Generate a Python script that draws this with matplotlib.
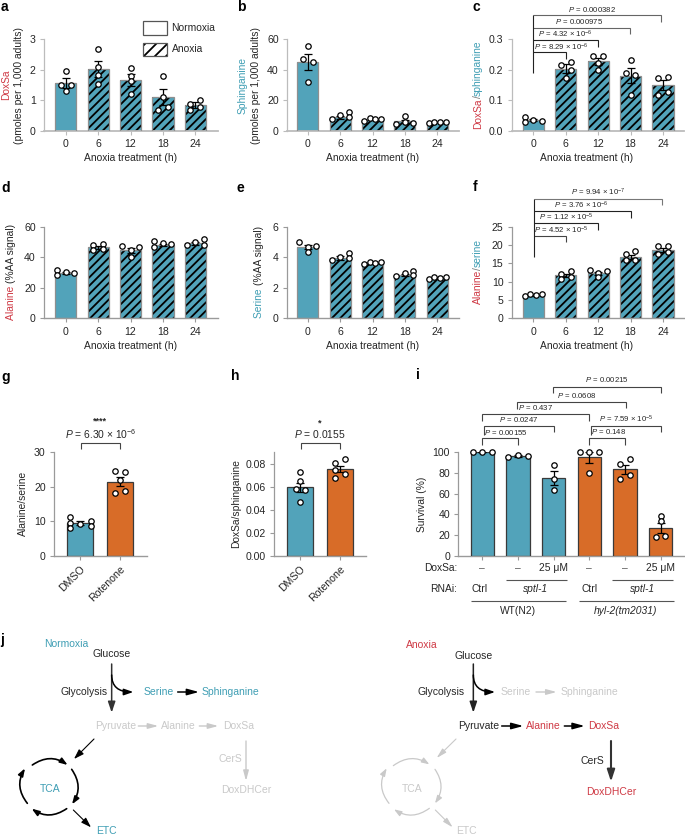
import matplotlib
matplotlib.use("Agg")
import matplotlib.pyplot as plt
from matplotlib.patches import Rectangle, FancyArrowPatch

plt.rcParams['font.family'] = ['Liberation Sans', 'DejaVu Sans']
plt.rcParams['mathtext.fontset'] = 'custom'
plt.rcParams['mathtext.rm'] = 'Liberation Sans'
plt.rcParams['mathtext.it'] = 'Liberation Sans:italic'
plt.rcParams['mathtext.default'] = 'regular'
plt.rcParams['hatch.linewidth'] = 1.3

TEAL = '#52A3BA'
ORANGE = '#D86C28'
TEALT = '#3F9EB4'
RED = '#CF3A45'
GREY = '#C9C9C9'
INK = '#262626'

hours = ['0', '6', '12', '18', '24']
treat = ['DMSO', 'Rotenone']

a_bars = [1.55, 2.02, 1.67, 1.10, 0.83]
a_err = [0.16, 0.26, 0.20, 0.25, 0.10]
a_pts = [[1.96, 1.49, 1.49, 1.31], [2.66, 2.09, 1.81, 1.53], [2.06, 1.80, 1.61, 1.19], [1.80, 1.10, 0.79, 0.67], [1.01, 0.86, 0.68, 0.76]]
a_off = [[0, -.15, .15, 0], [0, 0, 0, 0], [0, 0, 0, 0], [0, 0, .15, -.15], [.15, -.15, -.15, .15]]

b_bars = [45.0, 8.8, 7.2, 6.1, 5.6]
b_err = [5.0, 1.0, 0.5, 1.1, 0.2]
b_pts = [[55.7, 47, 45, 32], [7.6, 10.3, 12.4, 9.2], [6.1, 8.3, 7.4, 7.4], [4.4, 9.6, 5.7, 4.8], [5.0, 5.9, 5.9, 5.9]]
b_off = [[0, -.15, .15, 0], [-.26, 0, .26, .26], [-.26, -.09, .09, .26], [-.26, 0, 0, .26], [-.26, -.09, .09, .26]]

c_bars = [0.035, 0.203, 0.227, 0.180, 0.150]
c_err = [0.003, 0.014, 0.012, 0.024, 0.016]
c_pts = [[.045, .027, .035, .032], [.214, .225, .199, .173], [.244, .244, .223, .197], [.230, .189, .181, .116], [.173, .176, .128, .117]]
c_off = [[-.26, -.26, 0, .26], [-.15, .15, .15, 0], [-.15, .15, 0, 0], [0, -.15, .15, 0], [-.15, .15, .15, -.15]]

d_bars = [29.5, 46.5, 44.5, 48.0, 49.0]
d_err = [0.6, 1.0, 1.5, 0.8, 1.0]
d_pts = [[31.7, 28.2, 30.1, 29.5], [48.3, 48.5, 44.8, 45.2], [47.4, 44.8, 40.2, 46.5], [50.7, 46.7, 49.1, 48.7], [47.8, 50.0, 52.0, 48.0]]
d_off = [[-.26, -.26, 0, .26], [-.15, .15, -.15, .15], [-.26, 0, 0, .26], [-.26, -.26, 0, .26], [-.26, 0, .26, .26]]

e_bars = [4.65, 3.95, 3.60, 2.85, 2.65]
e_err = [0.14, 0.10, 0.03, 0.08, 0.04]
e_pts = [[4.97, 4.69, 4.32, 4.76], [3.80, 4.01, 4.30, 3.95], [3.56, 3.69, 3.64, 3.69], [2.77, 2.97, 3.12, 2.81], [2.55, 2.73, 2.66, 2.68]]
e_off = [[-.26, 0, 0, .26], [-.26, 0, .26, .26], [-.26, -.09, .09, .26], [-.26, 0, .26, .26], [-.26, -.09, .09, .26]]

f_bars = [6.3, 11.7, 12.3, 16.8, 18.7]
f_err = [0.15, 0.5, 0.4, 0.6, 0.6]
f_pts = [[6.1, 6.7, 6.3, 6.5], [12.1, 12.9, 10.6, 11.4], [13.1, 12.5, 11.2, 12.8], [17.5, 18.4, 15.8, 15.9], [19.6, 19.8, 17.5, 18.0]]
f_off = [[-.26, -.09, .09, .26], [-.15, .15, -.15, .15], [-.26, 0, 0, .26], [-.15, .15, -.15, .15], [-.15, .15, -.15, .15]]

g_bars = [9.5, 21.4]
g_err = [0.5, 1.3]
g_pts = [[11.2, 9.6, 8.0, 9.3, 10.0, 8.5], [24.5, 24.2, 21.9, 18.2, 18.9]]
g_off = [[-.27, -.27, -.27, 0, .27, .27], [-.12, .12, 0, -.12, .12]]

h_bars = [0.0597, 0.0755]
h_err = [0.004, 0.003]
h_pts = [[.0725, .0652, .0583, .0574, .047], [.0809, .0838, .068, .075, .071]]
h_off = [[0, 0, -.12, .12, 0], [-.12, .12, -.12, -.12, .12]]

i_bars = [100, 96.5, 75, 95, 83.5, 27]
i_err = [0, 0.8, 7, 5, 4.5, 5]
i_pts = [[100, 100, 100], [95.8, 97, 96.8], [87.7, 74.5, 63.5], [100, 100, 100, 79.7], [89, 93.2, 74.2, 77.7], [38.4, 33.2, 18.4, 19]]
i_off = [[-.26, 0, .27], [-.27, 0, .27], [0, 0, 0], [-.27, 0, .27, 0], [-.13, .13, -.13, .13], [0, 0, -.13, .13]]
i_colors = [TEAL, TEAL, TEAL, ORANGE, ORANGE, ORANGE]

W, H = 685, 835
fig = plt.figure(figsize=(W / 100, H / 100), dpi=100)
FS = 7.35


def panel(left, right, top, bottom, x0, step, ymax, yticks, ylabels, dark=False):
    ax = fig.add_axes([left / W, 1 - bottom / H, (right - left) / W, (bottom - top) / H])
    ax.set_xlim((left - x0) / step, (right - x0) / step)
    ax.set_ylim(0, ymax)
    ax.patch.set_alpha(0)
    for s in ('top', 'right'):
        ax.spines[s].set_visible(False)
    c = '#9a9a9a' if dark else '#bcbcbc'
    ax.spines['left'].set_color(c)
    ax.spines['bottom'].set_color(c)
    ax.spines['left'].set_linewidth(0.9)
    ax.spines['bottom'].set_linewidth(1.0 if dark else 1.3)
    ax.set_yticks(yticks)
    ax.set_yticklabels(ylabels)
    ax.tick_params(axis='both', length=3, width=0.8, color=c, labelsize=7.6, labelcolor=INK, pad=3)
    return ax


def draw(ax, bars, errs, pts, offs, colors, hatched, width, edge='#8f8f8f', ms=3.9):
    xs = list(range(len(bars)))
    for x, v, col, hat in zip(xs, bars, colors, hatched):
        if hat:
            ax.bar(x, v, width, color=col, edgecolor='black', hatch='////', linewidth=0, zorder=2)
        else:
            ax.bar(x, v, width, color=col, linewidth=0, zorder=2)
        ax.bar(x, v, width, fill=False, edgecolor=edge, linewidth=0.9, zorder=3)
    ax.errorbar(xs, bars, yerr=errs, fmt='none', ecolor='black', elinewidth=0.9, capsize=2.6, capthick=0.9, zorder=4)
    for x, ps, os_ in zip(xs, pts, offs):
        ax.plot([x + o for o in os_], ps, 'o', ms=ms, mfc='white', mec='black', mew=0.9, zorder=5, clip_on=False)


ov = fig.add_axes([0, 0, 1, 1], zorder=50)
ov.set_xlim(0, W)
ov.set_ylim(H, 0)
ov.axis('off')
ov.patch.set_alpha(0)


def T(x, y, s, color=INK, size=FS, ha='center', va='center', **kw):
    return ov.text(x, y, s, color=color, fontsize=size, ha=ha, va=va, **kw)


def vparts(x, ybottom, parts, size=FS):
    r = fig.canvas.get_renderer()
    y = ybottom
    for s, col in parts:
        ov.text(x, y, s, color=col, fontsize=size, rotation=90, ha='center', va='bottom')
        probe = ov.text(x, y, s.replace(' ', 't'), fontsize=size, rotation=90, alpha=0)
        h = probe.get_window_extent(r).height
        probe.remove()
        y -= h


def lines(pts, color=INK, lw=0.8):
    xs, ys = zip(*pts)
    ov.plot(xs, ys, color=color, lw=lw, solid_joinstyle='miter', solid_capstyle='butt')


# rows 1 and 2
anox = [False, True, True, True, True]
tc = [TEAL] * 5
ROW1 = (39, 130.7)
ROW2 = (226.7, 318.3)
X1 = dict(a=(44, 218, 65.7), b=(287, 459, 307.7), c=(511.7, 684, 533.3))
BW = 21.2 / 32.4

ax = panel(X1['a'][0], X1['a'][1], *ROW1, X1['a'][2], 32.4, 3, [0, 1, 2, 3], ['0', '1', '2', '3'])
draw(ax, a_bars, a_err, a_pts, a_off, tc, anox, BW)
ax.set_xticks(range(5), hours)
ax = panel(X1['b'][0], X1['b'][1], *ROW1, X1['b'][2], 32.4, 60, [0, 20, 40, 60], ['0', '20', '40', '60'])
draw(ax, b_bars, b_err, b_pts, b_off, tc, anox, BW)
ax.set_xticks(range(5), hours)
ax = panel(X1['c'][0], X1['c'][1], *ROW1, X1['c'][2], 32.4, 0.3, [0, .1, .2, .3], ['0.0', '0.1', '0.2', '0.3'])
draw(ax, c_bars, c_err, c_pts, c_off, tc, anox, BW)
ax.set_xticks(range(5), hours)

ax = panel(X1['a'][0], X1['a'][1], *ROW2, X1['a'][2], 32.4, 60, [0, 20, 40, 60], ['0', '20', '40', '60'], True)
draw(ax, d_bars, d_err, d_pts, d_off, tc, anox, BW)
ax.set_xticks(range(5), hours)
ax = panel(X1['b'][0], X1['b'][1], *ROW2, X1['b'][2], 32.4, 6, [0, 2, 4, 6], ['0', '2', '4', '6'], True)
draw(ax, e_bars, e_err, e_pts, e_off, tc, anox, BW)
ax.set_xticks(range(5), hours)
ax = panel(X1['c'][0], X1['c'][1], *ROW2, X1['c'][2], 32.4, 25, [0, 5, 10, 15, 20, 25], ['0', '5', '10', '15', '20', '25'], True)
draw(ax, f_bars, f_err, f_pts, f_off, tc, anox, BW)
ax.set_xticks(range(5), hours)

for cx in (131, 373, 587):
    T(cx, 158, 'Anoxia treatment (h)')
    T(cx, 345.7, 'Anoxia treatment (h)')

# row 3
ax = panel(54, 146.7, 452.3, 555.7, 80.3, 39.7, 30, [0, 10, 20, 30], ['0', '10', '20', '30'], True)
draw(ax, g_bars, g_err, g_pts, g_off, [TEAL, ORANGE], [False, False], 26 / 39.7, edge='#3a3a3a')
ax.set_xticks([0, 1], treat, rotation=45, ha='right', rotation_mode='anchor')
ax = panel(274, 366, 452.3, 555.7, 300.3, 39.7, 0.09, [0, .02, .04, .06, .08], ['0.00', '0.02', '0.04', '0.06', '0.08'], True)
draw(ax, h_bars, h_err, h_pts, h_off, [TEAL, ORANGE], [False, False], 26 / 39.7, edge='#3a3a3a')
ax.set_xticks([0, 1], treat, rotation=45, ha='right', rotation_mode='anchor')
ax = panel(458.3, 684, 452.3, 555.7, 482.3, 35.7, 100, [0, 20, 40, 60, 80, 100], ['0', '20', '40', '60', '80', '100'], True)
draw(ax, i_bars, i_err, i_pts, i_off, i_colors, [False] * 6, 23.3 / 35.7, edge='#3a3a3a')
ax.set_xticks(range(6), [''] * 6)

# axis titles
T(6, 85, 'DoxSa', RED, rotation=90)
T(19, 86, '(pmoles per 1,000 adults)', rotation=90)
T(243, 85, 'Sphinganine', TEALT, rotation=90)
T(256, 86, '(pmoles per 1,000 adults)', rotation=90)
vparts(478, 129, [('DoxSa', RED), ('/', '#777777'), ('sphinganine', TEALT)])
vparts(11, 320, [('Alanine ', RED), ('(%AA signal)', INK)])
vparts(259, 317.5, [('Serine ', TEALT), ('(%AA signal)', INK)])
vparts(478, 304.5, [('Alanine', RED), ('/', '#777777'), ('serine', TEALT)])
T(23, 503, 'Alanine/serine', rotation=90)
T(236, 504, 'DoxSa/sphinganine', rotation=90)
T(421.7, 504, 'Survival (%)', rotation=90)

# legend
plt.rcParams['hatch.linewidth'] = 1.3
ov.add_patch(Rectangle((142.7, 21.3), 24.6, 13.4, fc='white', ec='#555555', lw=0.9))
ov.add_patch(Rectangle((142.7, 42.7), 24.6, 13.4, fc='white', ec='black', lw=0, hatch='///'))
ov.add_patch(Rectangle((142.7, 42.7), 24.6, 13.4, fill=False, ec='#555555', lw=0.9))
T(170.7, 27.7, 'Normoxia', ha='left')
T(172, 49, 'Anoxia', ha='left')

# panel letters
for s, x, y in [('a', 1, 7), ('b', 237, 7), ('c', 473, 7), ('d', 1, 188), ('e', 237, 188), ('f', 473, 187),
                ('g', 1, 377), ('h', 231, 376), ('i', 416, 375), ('j', 0, 640)]:
    T(x, y, s, 'black', size=10, ha='left', fontweight='bold')


def P(s):
    return r'$\mathit{P}$ = ' + s


def E(a, b):
    return a + r' × 10$^{-' + b + '}$'


PS = 5.6
# c brackets
zc = lambda zx: 340 + zx / 3
for xe, y, d, col in [(677, 155, 178, '#222222'), (773, 120, 140, '#222222'), (869, 84, 102, '#666666'), (963, 46, 65, '#666666')]:
    lines([(zc(580), y / 3), (zc(xe), y / 3), (zc(xe), d / 3)], col)
lines([(zc(580), 220 / 3), (zc(580), 46 / 3)], '#222222')
for s, x, y in [(E('8.29', '6'), 663, 141), (E('4.32', '6'), 677, 104), ('0.000975', 716, 66), ('0.000382', 756, 27)]:
    T(zc(x), y / 3, P(s), size=PS)
# f brackets
for xe, y, d, col in [(679, 168, 187, '#444444'), (775, 130, 150, '#222222'), (872, 94, 113, '#222222'), (966, 57, 76, '#777777')]:
    lines([(zc(583), 180 + y / 3), (zc(xe), 180 + y / 3), (zc(xe), 180 + d / 3)], col)
lines([(zc(583), 180 + 232 / 3), (zc(583), 180 + 57 / 3)], '#222222')
for s, x, y in [(E('4.52', '5'), 665, 152), (E('1.12', '5'), 678, 112), (E('3.76', '6'), 725, 77), (E('9.94', '7'), 775, 38)]:
    T(zc(x), 180 + y / 3, P(s), size=PS)
# g, h
zy = lambda v: 370 + v / 3
lines([(80.7, zy(238)), (80.7, zy(218)), (120, zy(218)), (120, zy(238))], '#444444')
T(100, 421, '****', size=6.5, fontweight='bold')
T(100.7, 434, P(E('6.30', '6')), size=FS)
lines([(300.7, zy(238)), (300.7, zy(218)), (340, zy(218)), (340, zy(238))], '#444444')
T(320, 423, '*', size=6.5, fontweight='bold')
T(320, 434, P('0.0155'), size=FS)
# i brackets
for x1, x2, y, d1, d2 in [(427, 534, 205, 225, 225), (432, 641, 168, 195, 187), (427, 748, 133, 153, 153),
                          (530, 858, 97, 118, 115), (638, 962, 52, 70, 70), (748, 855, 205, 225, 225),
                          (752, 962, 168, 195, 187)]:
    lines([(zc(x1), zy(d1)), (zc(x1), zy(y)), (zc(x2), zy(y)), (zc(x2), zy(d2))], '#444444')
for s, x, y in [('0.00155', 497, 188), ('0.0247', 535, 149), ('0.437', 588, 113), ('0.0608', 710, 78),
                ('0.00215', 800, 28), ('0.148', 806, 185), (E('7.59', '5'), 858, 148)]:
    T(zc(x), zy(y), P(s), size=PS)
T(zc(352), zy(595), 'DoxSa:', ha='right')
T(zc(352), zy(656), 'RNAi:', ha='right')
for x in (427, 534, 748, 855):
    T(zc(x), zy(595), '–', color='#555555')
for x in (640, 962):
    T(zc(x), zy(595), '25 μM')
for x in (420, 748):
    T(zc(x), zy(656), 'Ctrl')
for x in (588, 908):
    T(zc(x), zy(656), 'sptl-1', style='italic')
for x1, x2, y in [(498, 680, 630), (815, 1000, 630), (392, 677, 694), (718, 1003, 694)]:
    lines([(zc(x1), zy(y)), (zc(x2), zy(y))], '#555555')
T(zc(534), zy(723), 'WT(N2)')
T(zc(858), zy(723), 'hyl-2(tm2031)', style='italic')


# pathway panel
def arrow(dx, p, q, col='black', lw=1.0, conn='arc3,rad=0', hl=6.5, hw=2.2):
    ov.add_patch(FancyArrowPatch((dx + p[0] / 3, 620 + p[1] / 3), (dx + q[0] / 3, 620 + q[1] / 3),
                                 connectionstyle=conn, shrinkA=0, shrinkB=0,
                                 arrowstyle=f'-|>,head_length={hl},head_width={hw}', mutation_scale=1,
                                 color=col, lw=lw, zorder=3))


def L(dx, x, y, s, col=INK):
    T(dx + x / 3, 620 + y / 3, s, col, size=7.5)


CURVE = 'angle3,angleA=90,angleB=0'
RING = 'arc3,rad=-0.34'

L(0, 200, 71, 'Normoxia', TEALT)
L(0, 335, 103, 'Glucose')
L(0, 253, 216, 'Glycolysis')
L(0, 476, 216, 'Serine', TEALT)
L(0, 692, 216, 'Sphinganine', TEALT)
L(0, 346, 318, 'Pyruvate', GREY)
L(0, 536, 318, 'Alanine', GREY)
L(0, 717, 318, 'DoxSa', GREY)
L(0, 692, 417, 'CerS', GREY)
L(0, 738, 509, 'DoxDHCer', GREY)
L(0, 151, 507, 'TCA', TEALT)
L(0, 320, 633, 'ETC', TEALT)
arrow(0, (335, 132), (335, 278), '#333333', 1.1)
arrow(0, (335, 165), (400, 216), 'black', 1.1, CURVE, hl=5.5, hw=1.9)
arrow(0, (533, 216), (597, 216), 'black', 1.1, hl=7, hw=1.9)
arrow(0, (415, 318), (475, 318), GREY, 1.0, hl=6, hw=1.6)
arrow(0, (598, 318), (655, 318), GREY, 1.0, hl=6, hw=1.6)
arrow(0, (738, 363), (738, 483), GREY, 1.0, hl=6, hw=1.6)
arrow(0, (282, 357), (222, 417), 'black', 0.8, hl=6, hw=2)
arrow(0, (220, 570), (273, 622), 'black', 0.8, hl=6, hw=2)
for p, q in [((97, 435), (203, 435)), ((215, 448), (216, 553)), ((200, 566), (95, 566)), ((82, 550), (75, 445))]:
    arrow(0, p, q, 'black', 1.2, RING, hl=4.5, hw=1.6)

D = 340
L(D, 246, 76, 'Anoxia', RED)
L(D, 401, 109, 'Glucose')
L(D, 302, 215, 'Glycolysis')
L(D, 527, 215, 'Serine', GREY)
L(D, 748, 215, 'Sphinganine', GREY)
L(D, 415, 318, 'Pyruvate')
L(D, 611, 318, 'Alanine', RED)
L(D, 792, 318, 'DoxSa', RED)
L(D, 758, 424, 'CerS')
L(D, 814, 515, 'DoxDHCer', RED)
L(D, 216, 508, 'TCA', GREY)
L(D, 380, 632, 'ETC', GREY)
arrow(D, (400, 132), (400, 278), '#222222', 1.1)
arrow(D, (400, 165), (465, 216), 'black', 1.1, CURVE, hl=5.5, hw=1.9)
arrow(D, (588, 216), (650, 216), GREY, 1.0, hl=6, hw=1.6)
arrow(D, (485, 318), (550, 318), 'black', 1.1, hl=7, hw=1.9)
arrow(D, (673, 318), (734, 318), 'black', 1.1, hl=7, hw=1.9)
arrow(D, (813, 363), (813, 485), '#333333', 1.5, hl=7, hw=2.3)
arrow(D, (348, 357), (290, 414), GREY, 0.8, hl=6, hw=1.6)
arrow(D, (286, 570), (338, 622), GREY, 0.8, hl=6, hw=1.6)
for p, q in [((160, 437), (268, 433)), ((285, 448), (285, 550)), ((268, 565), (162, 568)), ((147, 550), (140, 445))]:
    arrow(D, p, q, GREY, 0.9, RING, hl=4.5, hw=1.6)

fig.savefig('out.png', dpi=100)
